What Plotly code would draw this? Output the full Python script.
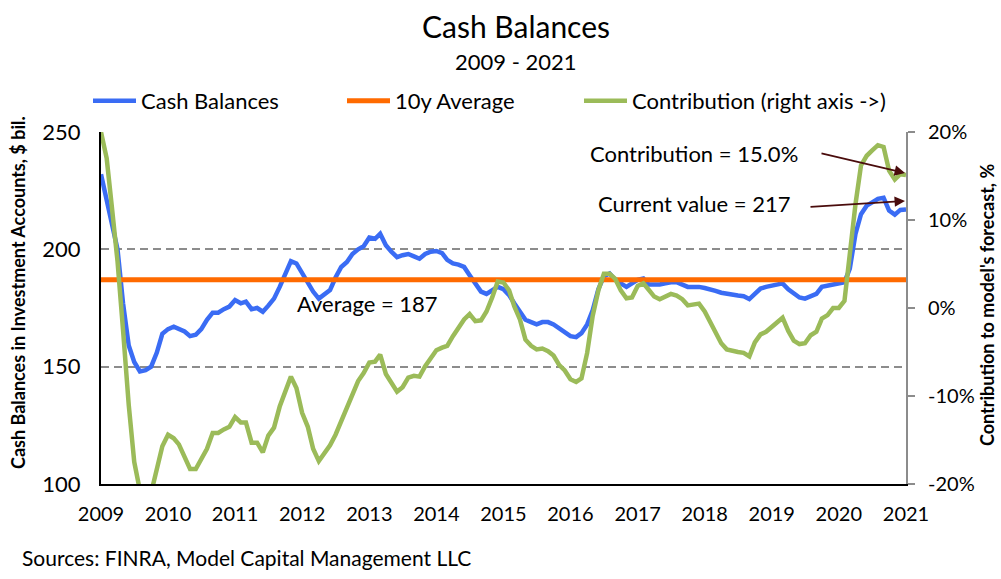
import plotly.graph_objects as go
import pandas as pd

# ---------------- data ----------------
months = pd.date_range("2009-01-01", "2021-01-01", freq="MS")

cash_balances = [
    232, 222, 211, 200, 177, 159, 152, 148, 148.5, 150,
    156, 164, 166, 167, 166, 165, 163, 163.6, 166, 170,
    173, 173, 174.5, 175.6, 178.4, 177, 177.7, 174.5, 175, 173.4,
    176, 179, 184, 190, 195, 194, 190, 185.5, 182, 179,
    180.5, 182.6, 188, 192.5, 194.6, 198, 200, 201.3, 205, 204.5,
    206.6, 201.7, 199, 196.7, 197.5, 198, 197, 196, 198, 199,
    199.3, 198.4, 195.5, 194, 193.5, 192.5, 189, 185.5, 182, 181,
    182.5, 184, 183, 180.5, 177, 173, 170, 169, 168, 169,
    169, 168, 166.5, 165, 163, 162.6, 164.3, 168, 174, 183,
    188.5, 189.7, 187, 185.5, 184, 185.5, 187, 187.6, 185, 185,
    185, 185.5, 186, 186, 185, 184, 184, 184, 183.5, 183,
    182.3, 181.5, 181, 180.5, 180.3, 180, 178.8, 181, 183.3, 184,
    184.5, 185, 185.5, 183, 181, 179.5, 179, 180, 181, 184,
    184.5, 185, 185.5, 186, 191.8, 206.6, 215, 218.6, 220, 221.5,
    222, 216.5, 214.8, 216.8, 217,
]

contribution_pct = [
    20, 17, 11.5, 5.3, -2.5, -11, -17.5, -21, -24, -21,
    -18.2, -15.7, -14.4, -14.8, -15.5, -16.8, -18.3, -18.3, -17.2, -16,
    -14.2, -14.2, -13.8, -13.5, -12.4, -13, -13, -15.3, -15.3, -16.4,
    -14.5, -13.6, -11.2, -9.5, -7.8, -9.1, -11.9, -13.5, -16, -17.4,
    -16.6, -15.6, -14.4, -12.8, -11.3, -9.9, -8.3, -7.4, -6.2, -6.1,
    -5.3, -7.5, -8.6, -9.5, -9.0, -7.9, -7.7, -7.8, -6.6, -5.7,
    -4.8, -4.5, -4.3, -3.2, -2.3, -1.3, -0.7, -1.5, -1.4, -0.4,
    1.2, 3.0, 2.9, 2.0, 0.2, -1.3, -3.6, -4.3, -4.7, -4.6,
    -4.9, -5.4, -6.5, -7.1, -8.1, -8.4, -8.0, -5.1, -0.9, 2.0,
    3.9, 3.9, 3.3, 2.0, 1.1, 1.2, 2.5, 2.8, 2.1, 1.3,
    1.0, 1.3, 1.6, 1.4, 1.0, 0.3, 0.4, 0.5, -0.4, -1.6,
    -2.9, -4.0, -4.7, -4.9, -5.0, -5.1, -5.5, -3.9, -3.0, -2.7,
    -2.1, -1.6, -1.1, -2.6, -3.7, -4.1, -4.0, -3.1, -2.7, -1.2,
    -0.8, 0.0, 0.0, 0.8, 6.2, 11.8, 16.2, 17.3, 17.9, 18.5,
    18.3, 15.6, 14.6, 15.2, 15.1,
]

avg_value = 187
avg_line = [avg_value] * len(months)
current_value = 217
contribution_label = "15.0%"

left_ticks = [100, 150, 200, 250]
right_tick_vals = [-20, -10, 0, 10, 20]
right_tick_text = ["-20%", "-10%", "0%", "10%", "20%"]

# ---------------- styling ----------------
FONT = "Lato"
BLUE = "#3a6cf4"
ORANGE = "#ff6a00"
GREEN = "#9bbb59"
ARROW = "#4a0c0c"
GRID = "#8c8c8c"

# plot area in pixels: x 101..906, y 132..484
L, R, T, B = 101, 906, 132, 484
W, H = 1001, 579
def px(x):
    return (x - L) / (R - L)
def py(y):
    return (B - y) / (B - T)

fig = go.Figure()
fig.add_trace(go.Scatter(x=months, y=cash_balances, name="Cash Balances",
                         mode="lines", line=dict(color=BLUE, width=4.5),
                         legend="legend"))
fig.add_trace(go.Scatter(x=months, y=avg_line, name="10y Average",
                         mode="lines", line=dict(color=ORANGE, width=5),
                         legend="legend2"))
fig.add_trace(go.Scatter(x=months, y=contribution_pct, name="Contribution (right axis ->)",
                         mode="lines", line=dict(color=GREEN, width=4.5),
                         yaxis="y2", legend="legend3"))

legend_common = dict(orientation="h", xanchor="left", yanchor="middle",
                     font=dict(family=FONT, size=22, color="black"),
                     bgcolor="rgba(0,0,0,0)", itemwidth=43, y=py(101))
fig.update_layout(
    width=W, height=H,
    margin=dict(l=L, r=W - R, t=T, b=H - B),
    paper_bgcolor="white", plot_bgcolor="white",
    font=dict(family=FONT, color="black"),
    title=dict(text="Cash Balances", x=px(516), xref="paper", xanchor="center",
               y=1 - 27 / H, yref="container", yanchor="middle",
               font=dict(family=FONT, size=30, color="black")),
    showlegend=True,
    legend=dict(x=px(88), **legend_common),
    legend2=dict(x=px(342), **legend_common),
    legend3=dict(x=px(579), **legend_common),
    xaxis=dict(range=[months[0], months[-1]], tickformat="%Y", dtick="M12",
               tick0="2009-01-01", showgrid=False, zeroline=False,
               showline=True, linecolor="black", linewidth=2, ticks="",
               tickfont=dict(family=FONT, size=20, color="black"),
               ticklabelstandoff=11),
    yaxis=dict(range=[100, 250], tickvals=left_ticks, showgrid=True,
               gridcolor=GRID, gridwidth=2, griddash="8px,5px", zeroline=False,
               showline=True, linecolor="black", linewidth=2, ticks="",
               tickfont=dict(family=FONT, size=22, color="black"),
               ticklabelstandoff=14),
    yaxis2=dict(range=[-20, 20], overlaying="y", side="right",
                tickvals=right_tick_vals, ticktext=right_tick_text,
                showgrid=False, zeroline=False, showline=True,
                linecolor=GRID, linewidth=2, ticks="outside", ticklen=7,
                tickwidth=2, tickcolor=GRID,
                tickfont=dict(family=FONT, size=20, color="black"),
                ticklabelstandoff=9),
)

annotations = [
    dict(text="2009 - 2021", x=px(516), y=py(61), xref="paper", yref="paper",
         showarrow=False, xanchor="center", yanchor="middle",
         font=dict(family=FONT, size=22)),
    dict(text="<b>Cash Balances in Investment Accounts, $ bil.</b>", textangle=-90,
         x=px(18), y=py(293), xref="paper", yref="paper", showarrow=False,
         xanchor="center", yanchor="middle", font=dict(family=FONT, size=18)),
    dict(text="<b>Contribution to model's forecast, %</b>", textangle=-90,
         x=px(987), y=py(305), xref="paper", yref="paper", showarrow=False,
         xanchor="center", yanchor="middle", font=dict(family=FONT, size=18)),
    dict(text="Sources: FINRA, Model Capital Management LLC", x=px(20), y=py(557),
         xref="paper", yref="paper", showarrow=False, xanchor="left",
         yanchor="middle", font=dict(family=FONT, size=21)),
    dict(text=f"Average = {avg_value}", x=px(367.5), y=py(303), xref="paper",
         yref="paper", showarrow=False, xanchor="center", yanchor="middle",
         font=dict(family=FONT, size=22)),
    dict(text=f"Contribution = {contribution_label}", x=px(694), y=py(153),
         xref="paper", yref="paper", showarrow=False, xanchor="center",
         yanchor="middle", font=dict(family=FONT, size=22)),
    dict(text=f"Current value = {current_value}", x=px(694), y=py(203),
         xref="paper", yref="paper", showarrow=False, xanchor="center",
         yanchor="middle", font=dict(family=FONT, size=22)),
    dict(text="", x=px(905), y=py(173), xref="paper", yref="paper",
         showarrow=True, ax=-85, ay=-20, arrowhead=2, arrowsize=1.3,
         arrowwidth=1.6, arrowcolor=ARROW, standoff=0, startstandoff=0),
    dict(text="", x=px(905), y=py(201), xref="paper", yref="paper",
         showarrow=True, ax=-96, ay=6, arrowhead=2, arrowsize=1.3,
         arrowwidth=1.6, arrowcolor=ARROW, standoff=0, startstandoff=0),
]
fig.update_layout(annotations=annotations)

fig.write_html("out.html", config={"displayModeBar": False},
               post_script="document.body.style.margin='0';")
